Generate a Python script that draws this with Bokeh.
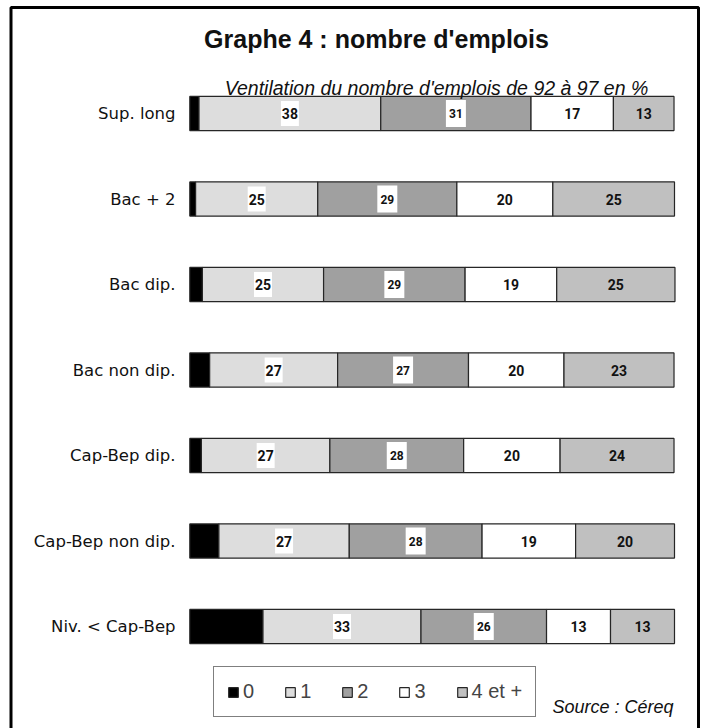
from bokeh.plotting import figure
from bokeh.models import Range1d, Legend, LegendItem, Label
from bokeh.core.properties import value
from bokeh.embed import file_html
from bokeh.resources import INLINE

# ---------------- data ----------------
categories = ["Sup. long", "Bac + 2", "Bac dip.", "Bac non dip.",
              "Cap-Bep dip.", "Cap-Bep non dip.", "Niv. < Cap-Bep"]
series_names = ["0", "1", "2", "3", "4 et +"]
v0 = [1.9, 1.2, 2.6, 4.1, 2.4, 6.0, 15.1]
v1 = [37.5, 25.2, 25.0, 26.4, 26.5, 26.9, 32.6]
v2 = [31.0, 28.7, 29.2, 27.0, 27.6, 27.4, 25.9]
v3 = [17.0, 19.8, 18.9, 19.7, 19.9, 19.3, 13.2]
v4 = [12.5, 25.1, 24.4, 22.7, 23.5, 20.4, 13.2]
labels1 = ["38", "25", "25", "27", "27", "27", "33"]
labels2 = ["31", "29", "29", "27", "28", "28", "26"]
labels3 = ["17", "20", "19", "20", "20", "19", "13"]
labels4 = ["13", "25", "25", "23", "24", "20", "13"]
title_text = "Graphe 4 : nombre d'emplois"
subtitle_text = "Ventilation du nombre d'emplois de 92 à 97 en %"
source_text = "Source : Céreq"

colors = ["#000000", "#dddddd", "#a0a0a0", "#ffffff", "#c0c0c0"]

# ---------------- layout (pixels) ----------------
W, H = 702, 728
BAR_L_PX, BAR_R_PX = 189.3, 674.0
ROW0_PX, ROW_STEP_PX = 113.0, 85.5
ppu = (BAR_R_PX - BAR_L_PX) / 100.0
x_start = -BAR_L_PX / ppu
x_end = 100 + (W - BAR_R_PX) / ppu
y_top = -ROW0_PX / ROW_STEP_PX
y_bot = (H - ROW0_PX) / ROW_STEP_PX


def px_to_x(px):
    return x_start + px / ppu


def px_to_y(py):
    return y_top + py / ROW_STEP_PX


p = figure(width=W, height=H, x_range=Range1d(x_start, x_end),
           y_range=Range1d(y_bot, y_top), min_border=0, title=None,
           x_axis_location=None, y_axis_location=None,
           toolbar_location=None, output_backend="svg")
p.grid.visible = False
p.outline_line_color = None
p.background_fill_color = "white"
p.border_fill_color = "white"

ys = list(range(len(categories)))
series = [v0, v1, v2, v3, v4]
lefts = [0.0] * len(categories)
renderers = []
centers = []
for vals, col in zip(series, colors):
    rights = [l + v for l, v in zip(lefts, vals)]
    r = p.hbar(y=ys, left=lefts, right=rights, height=0.4,
               fill_color=col, line_color="#262626", line_width=1.2)
    renderers.append(r)
    centers.append([(l + rr) / 2 for l, rr in zip(lefts, rights)])
    lefts = rights

# white label boxes for series 1 and 2
p.rect(x=centers[1], y=ys, width=18, height=25, width_units="screen",
       height_units="screen", fill_color="white", line_color=None)
p.rect(x=centers[2], y=ys, width=20, height=27, width_units="screen",
       height_units="screen", fill_color="white", line_color=None)

for c, labs, fs in [(centers[1], labels1, "14px"), (centers[2], labels2, "12px"),
                    (centers[3], labels3, "14px"), (centers[4], labels4, "14px")]:
    p.text(x=c, y=ys, text=labs, text_align="center", text_baseline="middle",
           text_font=value("Roboto"), text_font_style="bold",
           text_font_size=fs, text_color="#111111")

# category labels
p.text(x=[px_to_x(175)] * len(categories), y=ys, text=categories,
       text_align="right", text_baseline="middle",
       text_font=value("DejaVu Sans"), text_font_size="16.5px",
       text_color="#111111")

# frame border (open at the bottom)
bx = [px_to_x(10.5), px_to_x(10.5), px_to_x(698), px_to_x(698)]
by = [px_to_y(H + 10), px_to_y(7), px_to_y(7), px_to_y(H + 10)]
p.line(x=bx, y=by, line_color="black", line_width=3)

# titles
p.add_layout(Label(x=376, y=H - 38, x_units="screen", y_units="screen",
                   text=title_text, text_align="center", text_baseline="middle",
                   text_font="Liberation Sans", text_font_style="bold",
                   text_font_size="25px", text_color="#111111"))
p.add_layout(Label(x=436, y=H - 87, x_units="screen", y_units="screen",
                   text=subtitle_text, text_align="center", text_baseline="middle",
                   text_font="Liberation Sans", text_font_style="italic",
                   text_font_size="19.5px", text_color="#111111"))
p.add_layout(Label(x=552, y=H - 706, x_units="screen", y_units="screen",
                   text=source_text, text_align="left", text_baseline="middle",
                   text_font="Liberation Sans", text_font_style="italic",
                   text_font_size="18px", text_color="#111111"))

legend = Legend(items=[LegendItem(label=n, renderers=[r])
                       for n, r in zip(series_names, renderers)],
                orientation="horizontal", location=(213, H - 717),
                border_line_color="black", border_line_width=1,
                background_fill_color="white", background_fill_alpha=1,
                label_text_font="Liberation Sans", label_text_font_size="20px",
                glyph_width=12, glyph_height=12, label_standoff=4,
                spacing=30, padding=13, margin=0, label_width=10,
                label_height=18)
p.add_layout(legend)

open("out.html", "w").write(file_html(p, INLINE))
